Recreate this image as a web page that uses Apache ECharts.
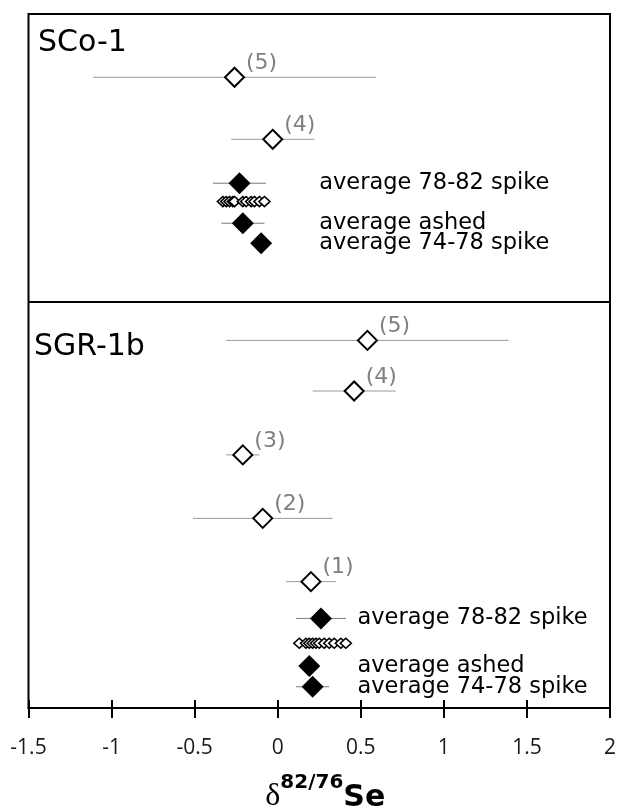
<!DOCTYPE html>
<html>
<head>
<meta charset="utf-8">
<script src="https://cdn.jsdelivr.net/npm/echarts@6/dist/echarts.min.js"></script>
<style>
  html, body { margin: 0; padding: 0; background: #fff; }
  #chart { width: 618px; height: 808px; }
</style>
</head>
<body>
<div id="chart"></div>
<script>
// x-axis ticks
const xTicks = [-1.5, -1, -0.5, 0, 0.5, 1, 1.5, 2];

// Annotation text for the averaged results
const avgLabels = ['average 78-82 spike', 'average ashed', 'average 74-78 spike'];

// ---- SCo-1 ----
const scoRunLabels = ['(5)', '(4)'];
const scoRunMean = [-0.26, -0.03];
const scoRunErr = [0.85, 0.25];
const scoRunRow = [30.9, 27.86];

const scoAvgMean = [-0.23, -0.21, -0.10];
const scoAvgErr = [0.16, 0.13, 0.03];
const scoAvgRow = [25.71, 23.75, 22.77];

const scoAshedValues = [-0.33, -0.31, -0.29, -0.27, -0.26, -0.21, -0.19, -0.16, -0.14, -0.11, -0.08];
const scoAshedRow = 24.81;

// ---- SGR-1b ----
const sgrRunLabels = ['(5)', '(4)', '(3)', '(2)', '(1)'];
const sgrRunMean = [0.54, 0.46, -0.21, -0.09, 0.20];
const sgrRunErr = [0.85, 0.25, 0.10, 0.42, 0.15];
const sgrRunRow = [18.01, 15.53, 12.40, 9.29, 6.19];

const sgrAvgMean = [0.26, 0.19, 0.21];
const sgrAvgErr = [0.15, 0.05, 0.10];
const sgrAvgRow = [4.39, 2.06, 1.04];

const sgrAshedValues = [0.13, 0.17, 0.19, 0.21, 0.23, 0.25, 0.28, 0.31, 0.34, 0.38, 0.41];
const sgrAshedRow = 3.17;

// x position where the annotation text starts in each panel
const scoTextX = 0.25;
const sgrTextX = 0.48;
// row of the line separating the two panels
const panelDivider = 19.9;

const TXT = 'DejaVu Sans';

// build [mean, row, err] triples
function triples(mean, err, row) {
  return mean.map((m, i) => [m, row[i], err[i]]);
}

const runData = triples(scoRunMean, scoRunErr, scoRunRow)
  .concat(triples(sgrRunMean, sgrRunErr, sgrRunRow));
const runLabelText = scoRunLabels.concat(sgrRunLabels);

const avgData = triples(scoAvgMean, scoAvgErr, scoAvgRow)
  .concat(triples(sgrAvgMean, sgrAvgErr, sgrAvgRow));

const ashedData = scoAshedValues.map(v => [v, scoAshedRow])
  .concat(sgrAshedValues.map(v => [v, sgrAshedRow]));

const textData = scoAvgRow.map((r, i) => ({ value: [scoTextX, r], name: avgLabels[i] }))
  .concat(sgrAvgRow.map((r, i) => ({ value: [sgrTextX, r], name: avgLabels[i] })));

// horizontal error bar drawn through the library's coordinate system
function errorBar(color) {
  return function (params, api) {
    const m = api.value(0), r = api.value(1), e = api.value(2);
    const p1 = api.coord([m - e, r]);
    const p2 = api.coord([m + e, r]);
    return {
      type: 'line',
      shape: { x1: p1[0], y1: p1[1], x2: p2[0], y2: p2[1] },
      style: { stroke: color, lineWidth: 1 }
    };
  };
}

const baseX = {
  type: 'value',
  min: xTicks[0],
  max: xTicks[xTicks.length - 1],
  interval: 0.5,
  position: 'bottom',
  splitLine: { show: false }
};

const chart = echarts.init(document.getElementById('chart'), null, { renderer: 'canvas' });

chart.setOption({
  animation: false,
  backgroundColor: '#fff',
  grid: {
    left: 28.5, right: 8, top: 14, bottom: 100,
    outerBoundsMode: 'none',
    containLabel: false,
    show: true, borderColor: '#000', borderWidth: 2, backgroundColor: 'transparent'
  },
  xAxis: [
    Object.assign({}, baseX, {
      axisLine: { lineStyle: { color: '#000', width: 2 } },
      axisTick: { show: true, inside: false, length: 10, lineStyle: { color: '#000', width: 2 } },
      axisLabel: {
        show: true,
        margin: 30,
        fontSize: 21,
        fontFamily: 'Open Sans',
        color: '#1a1a1a',
        formatter: v => '{t|' + v + '}',
        rich: {
          t: { fontSize: 21, fontFamily: 'Open Sans', color: '#1a1a1a' }
        }
      },
      name: '{d|δ}{s|82/76}{b|Se}',
      nameLocation: 'middle',
      nameGap: 65,
      nameTextStyle: {
        padding: [0, 0, 0, 12],
        rich: {
          d: { fontFamily: 'Liberation Serif', fontSize: 32, color: '#000', verticalAlign: 'bottom', lineHeight: 40 },
          s: { fontFamily: TXT, fontWeight: 'bold', fontSize: 20, color: '#000', verticalAlign: 'top', lineHeight: 22 },
          b: { fontFamily: TXT, fontWeight: 'bold', fontSize: 30, color: '#000', verticalAlign: 'bottom', lineHeight: 40 }
        }
      }
    }),
    Object.assign({}, baseX, {
      axisLine: { show: false },
      axisTick: { show: true, inside: true, length: 8, lineStyle: { color: '#000', width: 2 } },
      axisLabel: { show: false }
    })
  ],
  yAxis: {
    type: 'value', min: 0, max: 34,
    show: false
  },
  graphic: [
    { type: 'text', left: 38, top: 28, style: { text: 'SCo-1', font: '30px "DejaVu Sans"', fill: '#000' } },
    { type: 'text', left: 34, top: 332, style: { text: 'SGR-1b', font: '30px "DejaVu Sans"', fill: '#000' } }
  ],
  series: [
    {
      type: 'custom',
      renderItem: errorBar('#9a9a9a'),
      data: runData,
      z: 1,
      markLine: {
        silent: true,
        symbol: 'none',
        label: { show: false },
        lineStyle: { color: '#000', width: 2, type: 'solid', opacity: 1 },
        data: [{ yAxis: panelDivider }]
      }
    },
    {
      type: 'custom',
      renderItem: errorBar('#7a7a7a'),
      data: avgData,
      z: 1
    },
    {
      name: 'runs',
      type: 'scatter',
      symbol: 'diamond',
      symbolSize: 19,
      itemStyle: { color: '#fff', borderColor: '#000', borderWidth: 2, opacity: 1 },
      data: runData.map(d => [d[0], d[1]]),
      label: {
        show: true,
        position: 'right',
        distance: 1,
        offset: [0, -14],
        color: '#808080',
        fontSize: 22,
        fontFamily: TXT,
        formatter: p => runLabelText[p.dataIndex]
      },
      z: 3
    },
    {
      name: 'ashed replicates',
      type: 'scatter',
      symbol: 'diamond',
      symbolSize: [11, 10],
      itemStyle: { color: '#fff', borderColor: '#000', borderWidth: 1.6, opacity: 1 },
      data: ashedData,
      z: 3
    },
    {
      name: 'averages',
      type: 'scatter',
      symbol: 'diamond',
      symbolSize: 22,
      itemStyle: { color: '#000', borderColor: '#000', borderWidth: 0, opacity: 1 },
      data: avgData.map(d => [d[0], d[1]]),
      z: 4
    },
    {
      name: 'annotations',
      type: 'scatter',
      symbolSize: 0,
      itemStyle: { opacity: 1 },
      data: textData,
      label: {
        show: true,
        position: 'right',
        distance: 0,
        color: '#000',
        fontSize: 22.5,
        fontFamily: TXT,
        formatter: p => p.name
      },
      z: 5
    }
  ]
});
</script>
</body>
</html>
